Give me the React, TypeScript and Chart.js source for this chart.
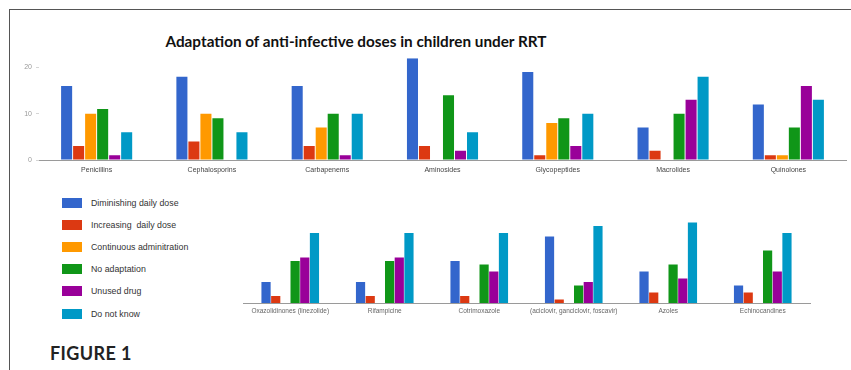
import React, { useEffect, useRef } from "react";
import { Chart, registerables } from "chart.js";

Chart.register(...registerables);

const seriesNames = [
  "Diminishing daily dose",
  "Increasing  daily dose",
  "Continuous adminitration",
  "No adaptation",
  "Unused drug",
  "Do not know",
];
const seriesColors = ["#3366cc", "#dc3912", "#ff9900", "#109618", "#990099", "#0099c6"];

const topCategories = [
  "Penicillins",
  "Cephalosporins",
  "Carbapenems",
  "Aminosides",
  "Glycopeptides",
  "Macrolides",
  "Quinolones",
];
const topDiminishing = [16, 18, 16, 22, 19, 7, 12];
const topIncreasing = [3, 4, 3, 3, 1, 2, 1];
const topContinuous = [10, 10, 7, 0, 8, 0, 1];
const topNoAdaptation = [11, 9, 10, 14, 9, 10, 7];
const topUnused = [1, 0, 1, 2, 3, 13, 16];
const topDoNotKnow = [6, 6, 10, 6, 10, 18, 13];
const topTicks = [0, 10, 20];

const bottomCategories = [
  "Oxazolidinones (linezolide)",
  "Rifampicine",
  "Cotrimoxazole",
  "(aciclovir, ganciclovir, foscavir)",
  "Azoles",
  "Echinocandines",
];
const bottomDiminishing = [6, 6, 12, 19, 9, 5];
const bottomIncreasing = [2, 2, 2, 1, 3, 3];
const bottomContinuous = [0, 0, 0, 0, 0, 0];
const bottomNoAdaptation = [12, 12, 11, 5, 11, 15];
const bottomUnused = [13, 13, 9, 6, 7, 9];
const bottomDoNotKnow = [20, 20, 20, 22, 23, 20];

const topSeries = [topDiminishing, topIncreasing, topContinuous, topNoAdaptation, topUnused, topDoNotKnow];
const bottomSeries = [
  bottomDiminishing,
  bottomIncreasing,
  bottomContinuous,
  bottomNoAdaptation,
  bottomUnused,
  bottomDoNotKnow,
];

function makeDatasets(series: number[][], barPct: number, catPct: number) {
  return series.map((data, i) => ({
    label: seriesNames[i],
    data,
    backgroundColor: seriesColors[i],
    borderWidth: 0,
    barPercentage: barPct,
    categoryPercentage: catPct,
  }));
}

export default function App() {
  const topRef = useRef<HTMLCanvasElement | null>(null);
  const bottomRef = useRef<HTMLCanvasElement | null>(null);

  useEffect(() => {
    const top = new Chart(topRef.current!, {
      type: "bar",
      data: { labels: topCategories, datasets: makeDatasets(topSeries, 0.92, 0.625) },
      options: {
        responsive: false,
        animation: false,
        devicePixelRatio: 1,
        layout: { padding: { left: 0, right: 5, top: 8, bottom: 0 } },
        plugins: { legend: { display: false }, tooltip: { enabled: false } },
        scales: {
          x: {
            grid: { display: false, drawTicks: false },
            border: { display: true, color: "#9a9a9a", width: 1 },
            ticks: {
              font: { family: "Liberation Sans", size: 7 },
              color: "#444",
              padding: 6,
              maxRotation: 0,
              autoSkip: false,
            },
            afterFit: (s: any) => {
              s.height = 20;
            },
          },
          y: {
            min: 0,
            max: 22,
            grid: { display: true, drawOnChartArea: false, drawTicks: true, tickLength: 3, color: "#d5d5d5" },
            border: { display: false },
            ticks: { font: { family: "Liberation Sans", size: 7 }, color: "#999", padding: 4 },
            afterBuildTicks: (s: any) => {
              s.ticks = topTicks.map((v) => ({ value: v }));
            },
            afterFit: (s: any) => {
              s.width = 39;
            },
          },
        },
      },
    });

    const bottom = new Chart(bottomRef.current!, {
      type: "bar",
      data: { labels: bottomCategories, datasets: makeDatasets(bottomSeries, 0.95, 0.615) },
      options: {
        responsive: false,
        animation: false,
        devicePixelRatio: 1,
        layout: { padding: { left: 43, right: 41, top: 9, bottom: 0 } },
        plugins: { legend: { display: false }, tooltip: { enabled: false } },
        scales: {
          x: {
            grid: { display: false, drawTicks: false },
            border: { display: true, color: "#9a9a9a", width: 1 },
            ticks: {
              font: { family: "Liberation Sans", size: 6.5 },
              color: "#666",
              padding: 4,
              maxRotation: 0,
              autoSkip: false,
            },
            afterFit: (s: any) => {
              s.height = 17;
            },
          },
          y: { display: false, min: 0, max: 24 },
        },
      },
    });

    return () => {
      top.destroy();
      bottom.destroy();
    };
  }, []);

  return (
    <div
      style={{
        position: "absolute",
        left: 0,
        top: 0,
        width: 851,
        height: 370,
        background: "#fff",
        overflow: "hidden",
        fontFamily: "Lato, 'Liberation Sans', sans-serif",
      }}
    >
      <div style={{ position: "absolute", left: 9, top: 9, width: 842, height: 1, background: "#555" }} />
      <div style={{ position: "absolute", left: 9, top: 9, width: 1, height: 361, background: "#555" }} />
      <div
        style={{
          position: "absolute",
          left: 106,
          top: 32,
          width: 500,
          textAlign: "center",
          fontWeight: 700,
          fontSize: 15.3,
          lineHeight: "19px",
          color: "#111",
          whiteSpace: "nowrap",
        }}
      >
        Adaptation of anti-infective doses in children under RRT
      </div>
      <canvas
        ref={topRef}
        width={851}
        height={130}
        style={{ position: "absolute", left: 0, top: 50, width: 851, height: 130 }}
      />
      <canvas
        ref={bottomRef}
        width={651}
        height={110}
        style={{ position: "absolute", left: 200, top: 210, width: 651, height: 110 }}
      />
      {seriesNames.map((name, i) => (
        <div
          key={name}
          style={{ position: "absolute", left: 62, top: 197 + i * 22.2, height: 11, display: "flex", alignItems: "center" }}
        >
          <div style={{ width: 20, height: 10, background: seriesColors[i] }} />
          <div
            style={{
              marginLeft: 9,
              fontFamily: "'Liberation Sans', sans-serif",
              fontSize: 8.8,
              color: "#333",
              whiteSpace: "pre",
            }}
          >
            {name}
          </div>
        </div>
      ))}
      <div
        style={{
          position: "absolute",
          left: 50,
          top: 342,
          fontWeight: 700,
          fontSize: 18,
          lineHeight: "22px",
          color: "#222",
          letterSpacing: 0.4,
        }}
      >
        FIGURE 1
      </div>
    </div>
  );
}
